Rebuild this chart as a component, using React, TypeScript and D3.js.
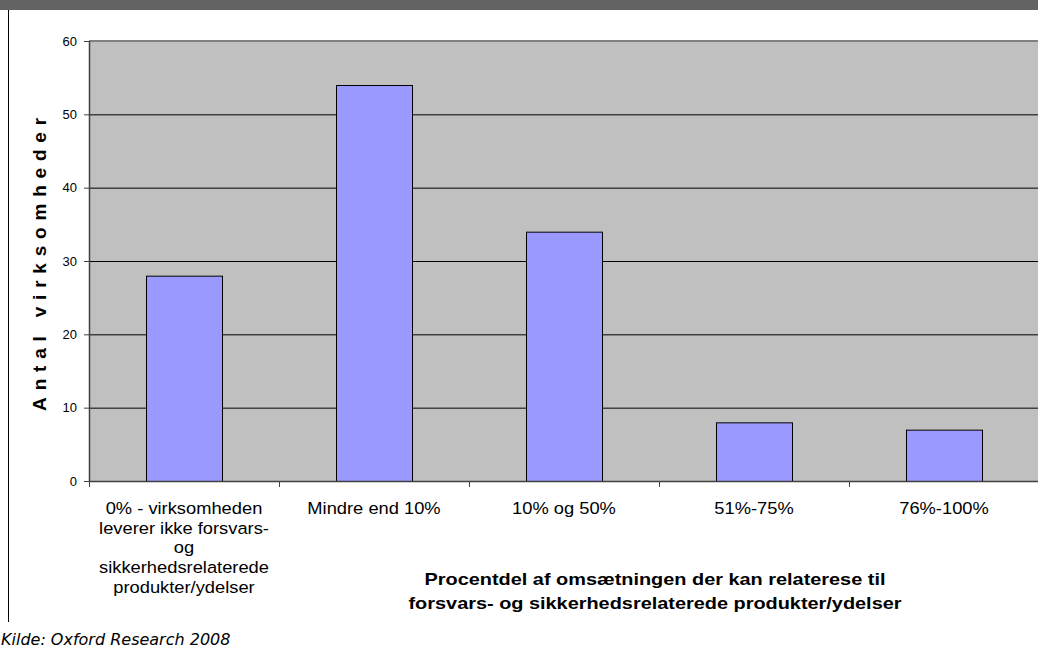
import React from "react";
import * as d3 from "d3";

const categories = ["c0", "c1", "c2", "c3", "c4"];
const categoryLabels: string[][] = [
  ["0% - virksomheden", "leverer ikke forsvars-", "og", "sikkerhedsrelaterede", "produkter/ydelser"],
  ["Mindre end 10%"],
  ["10% og 50%"],
  ["51%-75%"],
  ["76%-100%"],
];
const values = [28, 54, 34, 8, 7];
const yTicks = [0, 10, 20, 30, 40, 50, 60];
const yTitle = "Antal virksomheder";
const xTitleLines = [
  "Procentdel af omsætningen der kan relaterese til",
  "forsvars- og sikkerhedsrelaterede produkter/ydelser",
];
const sourceText = "Kilde: Oxford Research 2008";

const W = 1038;
const H = 648;
const plot = { left: 89, right: 1039, top: 41, bottom: 481 };
const FONT = "'Liberation Sans', Arial, sans-serif";

export default function App() {
  const x = d3
    .scaleBand<string>()
    .domain(categories)
    .range([plot.left, plot.right])
    .paddingInner(0.6)
    .paddingOuter(0.3);
  const y = d3.scaleLinear().domain([0, 60]).range([plot.bottom, plot.top]);
  const step = x.step();
  const boundaries = d3.range(categories.length + 1).map((i) => plot.left + i * step);

  return (
    <svg
      width={W}
      height={H}
      style={{ position: "absolute", left: 0, top: 0, display: "block", background: "#fff" }}
    >
      <rect x={0} y={0} width={W} height={H} fill="#fff" />
      <rect x={0} y={0} width={W} height={10} fill="#636363" />
      <line x1={8.5} x2={8.5} y1={10} y2={622} stroke="#000" strokeWidth={1} />

      {/* plot area */}
      <rect
        x={plot.left}
        y={plot.top}
        width={plot.right - plot.left}
        height={plot.bottom - plot.top}
        fill="#c0c0c0"
      />
      {yTicks
        .filter((t) => t > 0 && t < 60)
        .map((t) => (
          <line
            key={"g" + t}
            x1={plot.left}
            x2={plot.right}
            y1={y(t) + 0.5}
            y2={y(t) + 0.5}
            stroke="#000"
            strokeWidth={1}
          />
        ))}
      <line x1={plot.left} x2={plot.right} y1={plot.top} y2={plot.top} stroke="#808080" strokeWidth={2} />

      {/* bars */}
      {values.map((v, i) => (
        <rect
          key={"b" + i}
          x={(x(categories[i]) as number) + 0.5}
          y={y(v) + 0.5}
          width={x.bandwidth()}
          height={y(0) - y(v)}
          fill="#9999ff"
          stroke="#000"
          strokeWidth={1}
        />
      ))}

      {/* axes */}
      <line x1={plot.left + 0.5} x2={plot.left + 0.5} y1={plot.top} y2={plot.bottom + 1} stroke="#404040" strokeWidth={1.5} />
      <line x1={plot.left} x2={plot.right} y1={plot.bottom + 0.5} y2={plot.bottom + 0.5} stroke="#404040" strokeWidth={1.5} />
      {yTicks.map((t) => (
        <g key={"yt" + t}>
          <line x1={plot.left - 5} x2={plot.left} y1={y(t) + 0.5} y2={y(t) + 0.5} stroke="#404040" strokeWidth={1} />
          <text
            x={77}
            y={y(t)}
            dy="0.35em"
            textAnchor="end"
            fontFamily={FONT}
            fontSize={13}
            fill="#000"
          >
            {t}
          </text>
        </g>
      ))}
      {boundaries.map((b, i) => (
        <line key={"xt" + i} x1={b + 0.5} x2={b + 0.5} y1={plot.bottom} y2={plot.bottom + 6} stroke="#404040" strokeWidth={1} />
      ))}

      {/* category labels */}
      {categoryLabels.map((lines, i) => (
        <text
          key={"cl" + i}
          transform={`translate(${(x(categories[i]) as number) + x.bandwidth() / 2}, 514) scale(1.11, 1)`}
          textAnchor="middle"
          fontFamily={FONT}
          fontSize={16.5}
          fill="#000"
        >
          {lines.map((ln, j) => (
            <tspan key={j} x={0} y={j * 19.7}>
              {ln}
            </tspan>
          ))}
        </text>
      ))}

      {/* x title */}
      <text
        transform="translate(655, 585) scale(1.17, 1)"
        textAnchor="middle"
        fontFamily={FONT}
        fontSize={17}
        fontWeight="bold"
        fill="#000"
      >
        {xTitleLines.map((ln, j) => (
          <tspan key={j} x={0} y={j * 24}>
            {ln}
          </tspan>
        ))}
      </text>

      {/* y title */}
      <text
        transform={`translate(46, ${(plot.top + plot.bottom) / 2}) rotate(-90)`}
        textAnchor="middle"
        fontFamily={FONT}
        fontSize={19}
        fontWeight="bold"
        letterSpacing={6.8}
        fill="#000"
      >
        {yTitle}
      </text>

      {/* source */}
      <text x={1} y={645} fontFamily="'DejaVu Sans', Tahoma, sans-serif" fontStyle="italic" fontSize={16} fill="#000">
        {sourceText}
      </text>
    </svg>
  );
}
